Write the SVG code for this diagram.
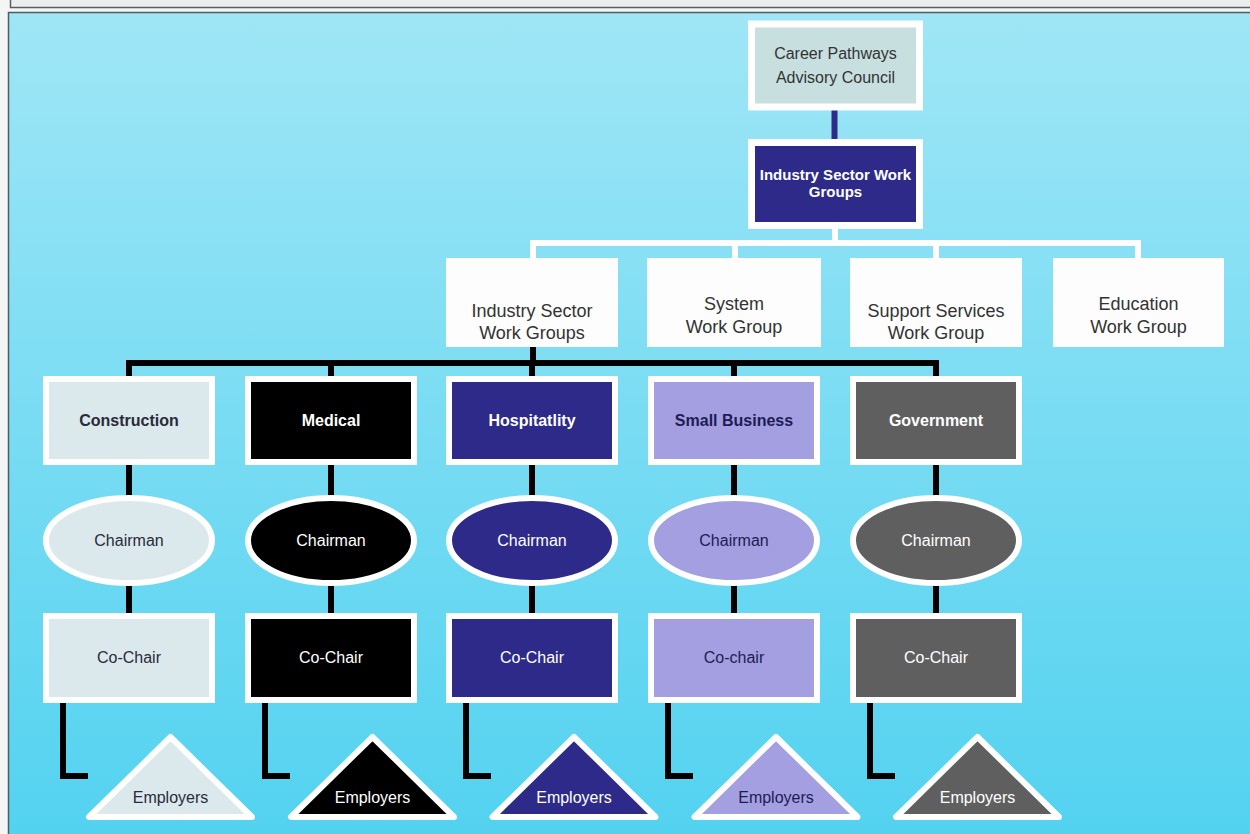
<svg xmlns="http://www.w3.org/2000/svg" width="1250" height="834" viewBox="0 0 1250 834">
<defs>
<linearGradient id="bg" x1="0" y1="0" x2="0" y2="1">
<stop offset="0" stop-color="#9fe6f6"/>
<stop offset="1" stop-color="#52d2f0"/>
</linearGradient>
<style>
text{font-family:"Liberation Sans",Arial,sans-serif;text-anchor:middle}
.wb{stroke:#ffffff;stroke-width:6}
.k{stroke:#000000;stroke-width:6;fill:none;stroke-linecap:butt}
.w{stroke:#ffffff;stroke-width:6;fill:none}
.t16{font-size:16px}
.b16{font-size:16px;font-weight:bold}
.t18{font-size:18px;fill:#333333}
.dk{fill:#2a2a3a}
.wt{fill:#ffffff}
.nv{fill:#1e1c55}
.c1{fill:#dbe9ed}
.c2{fill:#000000}
.c3{fill:#2d2a8a}
.c4{fill:#a39fe0}
.c5{fill:#5f5f5f}
</style>
</defs>
<rect x="0" y="0" width="1250" height="834" fill="#f4f5f5"/>
<rect x="10" y="0" width="1240" height="7" fill="#eceeee"/>
<line x1="10" y1="7.5" x2="1250" y2="7.5" stroke="#56605f" stroke-width="1.5"/>
<line x1="10.5" y1="0" x2="10.5" y2="8" stroke="#56605f" stroke-width="1.5"/>
<rect x="8.5" y="12.5" width="1250" height="830" fill="url(#bg)" stroke="#4d5d63" stroke-width="1.5"/>

<g id="connectors">
<line x1="834.5" y1="109" x2="834.5" y2="140" stroke="#2d2a8a" stroke-width="6"/>
<path class="w" d="M835 229 V243 M530 243 H1141 M533 243 V258 M735 243 V258 M936 243 V258 M1138 243 V258"/>
<path class="k" d="M533 347 V363 M126 363 H939 M129 363 V376 M331 363 V376 M532 363 V376 M734 363 V376 M936 363 V376"/>
<path class="k" d="M129 465 V497 M331 465 V497 M532 465 V497 M734 465 V497 M936 465 V497"/>
<path class="k" d="M129 584 V614 M331 584 V614 M532 584 V614 M734 584 V614 M936 584 V614"/>
<path class="k" d="M63 703 V776 H88 M265 703 V776 H290 M466 703 V776 H491 M668 703 V776 H693 M870 703 V776 H895"/>
</g>

<g id="advisory-council">
<rect x="751.5" y="24" width="168" height="83" fill="#c7dfdf" stroke="#ffffff" stroke-width="7"/>
<text x="835.5" y="59" class="t16" fill="#333333">Career Pathways</text>
<text x="835.5" y="83" class="t16" fill="#333333">Advisory Council</text>
</g>

<g id="industry-sector-top">
<rect x="751.5" y="142.5" width="168" height="83" fill="#2d2a8a" stroke="#ffffff" stroke-width="7"/>
<text x="835.5" y="180" font-size="15" font-weight="bold" fill="#ffffff">Industry Sector Work</text>
<text x="835.5" y="197" font-size="15" font-weight="bold" fill="#ffffff">Groups</text>
</g>

<g id="industry-sector-wg">
<rect x="446" y="258" width="172" height="89" fill="#fdfdfd"/>
<text x="532" y="317" class="t18">Industry Sector</text>
<text x="532" y="339" class="t18">Work Groups</text>
</g>
<g id="system-wg">
<rect x="647" y="258" width="174" height="89" fill="#fdfdfd"/>
<text x="734" y="310" class="t18">System</text>
<text x="734" y="333" class="t18">Work Group</text>
</g>
<g id="support-wg">
<rect x="850" y="258" width="172" height="89" fill="#fdfdfd"/>
<text x="936" y="317" class="t18">Support Services</text>
<text x="936" y="339" class="t18">Work Group</text>
</g>
<g id="education-wg">
<rect x="1053" y="258" width="171" height="89" fill="#fdfdfd"/>
<text x="1138.5" y="310" class="t18">Education</text>
<text x="1138.5" y="333" class="t18">Work Group</text>
</g>

<g id="construction">
<rect x="46" y="379" width="166" height="83" class="c1 wb"/>
<text x="129" y="426" class="b16 dk">Construction</text>
</g>
<g id="medical">
<rect x="248" y="379" width="166" height="83" class="c2 wb"/>
<text x="331" y="426" class="b16 wt">Medical</text>
</g>
<g id="hospitality">
<rect x="449" y="379" width="166" height="83" class="c3 wb"/>
<text x="532" y="426" class="b16 wt">Hospitatlity</text>
</g>
<g id="small-business">
<rect x="651" y="379" width="166" height="83" class="c4 wb"/>
<text x="734" y="426" class="b16 nv">Small Business</text>
</g>
<g id="government">
<rect x="853" y="379" width="166" height="83" class="c5 wb"/>
<text x="936" y="426" class="b16 wt">Government</text>
</g>

<g id="construction-chairman">
<ellipse cx="129" cy="540.5" rx="83" ry="42.5" class="c1 wb"/>
<text x="129" y="546" class="t16 dk">Chairman</text>
</g>
<g id="medical-chairman">
<ellipse cx="331" cy="540.5" rx="83" ry="42.5" class="c2 wb"/>
<text x="331" y="546" class="t16 wt">Chairman</text>
</g>
<g id="hospitality-chairman">
<ellipse cx="532" cy="540.5" rx="83" ry="42.5" class="c3 wb"/>
<text x="532" y="546" class="t16 wt">Chairman</text>
</g>
<g id="small-business-chairman">
<ellipse cx="734" cy="540.5" rx="83" ry="42.5" class="c4 wb"/>
<text x="734" y="546" class="t16 nv">Chairman</text>
</g>
<g id="government-chairman">
<ellipse cx="936" cy="540.5" rx="83" ry="42.5" class="c5 wb"/>
<text x="936" y="546" class="t16 wt">Chairman</text>
</g>

<g id="construction-cochair">
<rect x="46" y="616" width="166" height="84" class="c1 wb"/>
<text x="129" y="663" class="t16 dk">Co-Chair</text>
</g>
<g id="medical-cochair">
<rect x="248" y="616" width="166" height="84" class="c2 wb"/>
<text x="331" y="663" class="t16 wt">Co-Chair</text>
</g>
<g id="hospitality-cochair">
<rect x="449" y="616" width="166" height="84" class="c3 wb"/>
<text x="532" y="663" class="t16 wt">Co-Chair</text>
</g>
<g id="small-business-cochair">
<rect x="651" y="616" width="166" height="84" class="c4 wb"/>
<text x="734" y="663" class="t16 nv">Co-chair</text>
</g>
<g id="government-cochair">
<rect x="853" y="616" width="166" height="84" class="c5 wb"/>
<text x="936" y="663" class="t16 wt">Co-Chair</text>
</g>

<g id="construction-employers">
<polygon points="170.5,737 89,817 252,817" class="c1 wb" stroke-linejoin="round"/>
<text x="170.5" y="803" class="t16 dk">Employers</text>
</g>
<g id="medical-employers">
<polygon points="372.5,737 291,817 454,817" class="c2 wb" stroke-linejoin="round"/>
<text x="372.5" y="803" class="t16 wt">Employers</text>
</g>
<g id="hospitality-employers">
<polygon points="574,737 492.5,817 655.5,817" class="c3 wb" stroke-linejoin="round"/>
<text x="574" y="803" class="t16 wt">Employers</text>
</g>
<g id="small-business-employers">
<polygon points="776,737 694.5,817 857.5,817" class="c4 wb" stroke-linejoin="round"/>
<text x="776" y="803" class="t16 nv">Employers</text>
</g>
<g id="government-employers">
<polygon points="977.5,737 896,817 1059,817" class="c5 wb" stroke-linejoin="round"/>
<text x="977.5" y="803" class="t16 wt">Employers</text>
</g>
</svg>
